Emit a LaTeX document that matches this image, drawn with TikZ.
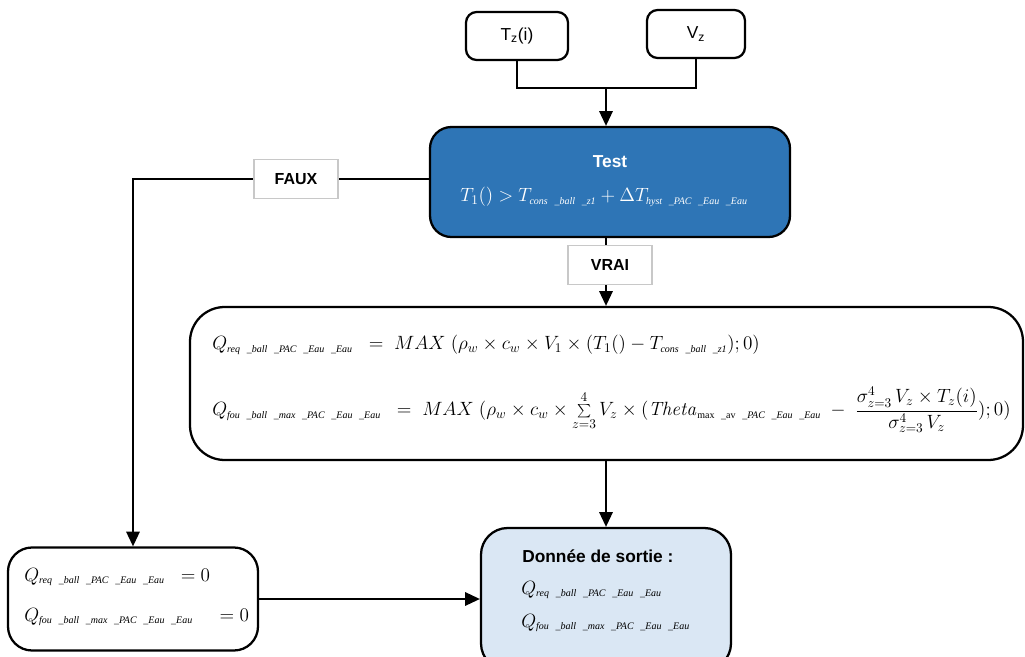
\documentclass[tikz,border=0pt]{standalone}
\usepackage[no-math]{fontspec}
\setmainfont{Liberation Sans}
\newfontfamily\subf{Liberation Serif}
\usetikzlibrary{arrows.meta}
\definecolor{testblue}{HTML}{2E75B6}
\definecolor{outfill}{HTML}{DAE7F4}
\definecolor{lblgray}{HTML}{C8C8C8}
\newcommand\gp{\hspace{5pt}\_}
\newcommand\ssub[1]{\mbox{\subf\itshape\fontsize{7.5}{8}\selectfont #1}}
\newcommand\subreq{\ssub{req\gp ball\gp PAC\gp Eau\gp Eau}}
\newcommand\subfou{\ssub{fou\gp ball\gp max\gp PAC\gp Eau\gp Eau}}
\begin{document}
\begin{tikzpicture}[x=0.75pt,y=-0.75pt,
  box/.style={draw=black, line width=1.7pt, rounded corners=#1, inner sep=0pt},
  box/.default=8pt,
  lbl/.style={draw=lblgray, fill=white, line width=0.8pt, minimum width=63pt, minimum height=29pt, font=\bfseries\fontsize{12}{14}\selectfont},
  conn/.style={line width=1.4pt},
  arr/.style={conn, -{Triangle[width=10pt,length=11pt]}},
  txt/.style={font=\fontsize{13}{15}\selectfont, inner sep=0pt},
  mtxt/.style={font=\fontsize{14.4}{17}\selectfont, inner sep=0pt, anchor=west}]
\useasboundingbox (0,0) rectangle (1025,657);

% boxes
\node[box=8pt, minimum width=76.5pt, minimum height=36pt] (tz) at (517,36) {};
\node[box=8pt, minimum width=73.5pt, minimum height=36pt] (vz) at (696,34) {};
\node[txt] (tztxt) at (517,36) {T\textsubscript{z}(i)};
\node[txt] (vztxt) at (696,34) {V\textsubscript{z}};

\node[box=16pt, fill=testblue, minimum width=270pt, minimum height=82.5pt] (test) at (610,182) {};
\node[txt, text=white, font=\bfseries\fontsize{13}{15}\selectfont] (testtitle) at (610,162) {Test};
\node[mtxt, text=white, anchor=center] (testformula) at (604,197)
  {$T_1() > T_{\ssub{cons\gp ball\gp z1}} + \Delta T_{\ssub{hyst\gp PAC\gp Eau\gp Eau}}$};

\node[box=26pt, minimum width=624.75pt, minimum height=114.75pt] (calc) at (606.5,383.5) {};
\node[mtxt] (l1) at (212,345)
  {$Q_{\subreq} \;\;=\; MAX\;(\rho_w \times c_w \times V_1 \times (T_1() - T_{\ssub{cons\gp ball\gp z1}}) ; 0)$};
\node[mtxt] (l2) at (212,410)
  {$Q_{\subfou} \;\;=\; MAX\;(\rho_w \times c_w \times \sum\limits_{z=3}^{4} V_z \times (\mathit{Theta}_{\ssub{\upshape max\gp av\gp\itshape PAC\gp Eau\gp Eau}} \;-\; {\displaystyle\frac{\sigma^4_{z=3}\, V_z \times T_z(i)}{\sigma^4_{z=3}\, V_z}}) ; 0)$};

\node[box=18pt, minimum width=187.5pt, minimum height=77.25pt] (bl) at (133,599) {};
\node[mtxt] (bl1) at (24,577) {$Q_{\subreq} \;\;= 0$};
\node[mtxt] (bl2) at (24,617) {$Q_{\subfou} \;\;\;\;= 0$};

\node[box=20pt, fill=outfill, minimum width=187.5pt, minimum height=106.5pt] (out) at (606,599) {};
\node[txt, anchor=west, font=\bfseries\fontsize{13}{15}\selectfont] (outtitle) at (522,556) {Donnée de sortie :};
\node[mtxt] (o1) at (521,590) {$Q_{\subreq}$};
\node[mtxt] (o2) at (521,623) {$Q_{\subfou}$};

% connectors
\coordinate (j) at (606,88);
\draw[conn] (tz.south) |- (j) -| (vz.south);
\draw[arr] (j) -- (j |- test.north);
\draw[arr] ([yshift=2.25pt]test.west) -| (bl.north);
\draw[arr] (j |- test.south) -- (j |- calc.north);
\draw[arr] (j |- calc.south) -- (j |- out.north);
\draw[arr] (bl.east) -- (bl.east -| out.west);

% labels
\node[lbl] (faux) at (296,179) {FAUX};
\node[lbl] (vrai) at (610,265) {VRAI};
\end{tikzpicture}
\end{document}
